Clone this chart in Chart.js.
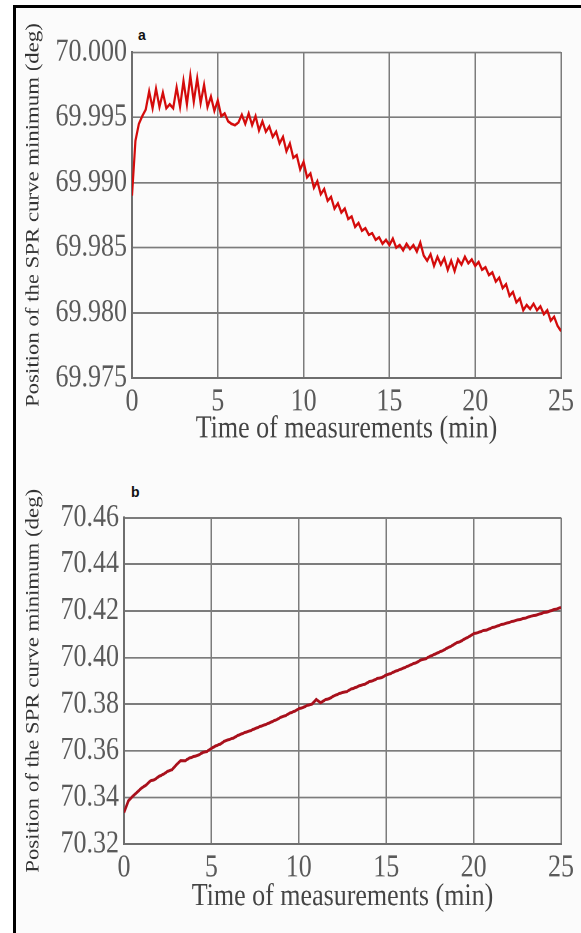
<!DOCTYPE html>
<html>
<head>
<meta charset="UTF-8">
<title>Position of the SPR curve minimum</title>
<script src="https://cdn.jsdelivr.net/npm/chart.js"></script>
<style>
  body { margin:0; background:#fff; width:581px; height:933px; overflow:hidden; position:relative; }
  .frame { position:absolute; left:13px; top:5px; width:620px; height:1000px; border-left:3px solid #000; border-top:3px solid #000; background:#fbfbfb; }
  .panel { position:absolute; left:17px; width:564px; transform:scaleY(1.2); transform-origin:0 0; }
  .tag { position:absolute; font:bold 14px "Liberation Sans", Arial, sans-serif; color:#111; }
</style>
</head>
<body>
<div class="frame"></div>
<div class="tag" style="left:138px; top:27px;">a</div>
<div class="tag" style="left:131px; top:484px;">b</div>
<div class="panel" style="top:9px; height:363px;"><canvas id="chartA" width="564" height="363"></canvas></div>
<div class="panel" style="top:460px; height:377px;"><canvas id="chartB" width="564" height="377"></canvas></div>

<script>
// panel a: sampled every 0.2 min
const stepA = 0.2;
const valuesA = [
  69.9890, 69.9932, 69.9945, 69.9951, 69.9956, 69.9970, 69.9957, 69.9972, 69.9958, 69.9969,
  69.9957, 69.9960, 69.9957, 69.9973, 69.9958, 69.9978, 69.9960, 69.9982, 69.9962, 69.9980,
  69.9961, 69.9975, 69.9958, 69.9966, 69.9955, 69.9963, 69.9951, 69.9953, 69.9947, 69.9945,
  69.9944, 69.9946, 69.9952, 69.9945, 69.9953, 69.9944, 69.9951, 69.9940, 69.9947, 69.9939,
  69.9943, 69.9935, 69.9939, 69.9930, 69.9935, 69.9924, 69.9930, 69.9919, 69.9921, 69.9910,
  69.9916, 69.9904, 69.9907, 69.9896, 69.9901, 69.9891, 69.9895, 69.9886, 69.9889, 69.9880,
  69.9884, 69.9877, 69.9880, 69.9872, 69.9874, 69.9866, 69.9869, 69.9863, 69.9865, 69.9860,
  69.9861, 69.9856, 69.9858, 69.9853, 69.9856, 69.9852, 69.9857, 69.9850, 69.9852, 69.9848,
  69.9853, 69.9849, 69.9852, 69.9847, 69.9854, 69.9844, 69.9840, 69.9845, 69.9836, 69.9843,
  69.9837, 69.9842, 69.9833, 69.9840, 69.9832, 69.9841, 69.9837, 69.9843, 69.9838, 69.9841,
  69.9836, 69.9839, 69.9833, 69.9835, 69.9829, 69.9831, 69.9824, 69.9827, 69.9819, 69.9822,
  69.9813, 69.9816, 69.9808, 69.9811, 69.9802, 69.9806, 69.9803, 69.9807, 69.9802, 69.9805,
  69.9799, 69.9802, 69.9794, 69.9797, 69.9790, 69.9786
];

// panel b: sampled every 0.25 min
const stepB = 0.25;
const valuesB = [
  70.3335, 70.3385, 70.3405, 70.3422, 70.3440, 70.3452, 70.3470, 70.3476, 70.3490, 70.3499,
  70.3512, 70.3519, 70.3540, 70.3558, 70.3557, 70.3569, 70.3575, 70.3581, 70.3592, 70.3597,
  70.3610, 70.3621, 70.3628, 70.3641, 70.3648, 70.3654, 70.3665, 70.3673, 70.3680, 70.3687,
  70.3695, 70.3703, 70.3710, 70.3717, 70.3726, 70.3734, 70.3745, 70.3751, 70.3762, 70.3769,
  70.3780, 70.3786, 70.3795, 70.3800, 70.3820, 70.3806, 70.3818, 70.3824, 70.3835, 70.3843,
  70.3850, 70.3854, 70.3865, 70.3871, 70.3880, 70.3884, 70.3895, 70.3901, 70.3910, 70.3914,
  70.3925, 70.3931, 70.3940, 70.3947, 70.3955, 70.3963, 70.3972, 70.3979, 70.3990, 70.3994,
  70.4005, 70.4013, 70.4022, 70.4030, 70.4041, 70.4050, 70.4062, 70.4069, 70.4080, 70.4090,
  70.4102, 70.4107, 70.4114, 70.4118, 70.4126, 70.4132, 70.4139, 70.4144, 70.4150, 70.4155,
  70.4161, 70.4165, 70.4170, 70.4177, 70.4180, 70.4186, 70.4192, 70.4196, 70.4203, 70.4208,
  70.4215
];

const xTicks = [0, 5, 10, 15, 20, 25];
const yTicksA = [69.975, 69.980, 69.985, 69.990, 69.995, 70.000];
const yTicksB = [70.32, 70.34, 70.36, 70.38, 70.40, 70.42, 70.44, 70.46];

const xTitle = 'Time of measurements (min)';
const yTitle = 'Position of the SPR curve minimum (deg)';

const serif = '"Liberation Serif", "Times New Roman", serif';
const gridColor = '#7c7c7c';

function makeChart(id, values, step, yTicks, digits, color, width, cfg) {
  const pts = values.map((v, i) => ({ x: i * step, y: v }));
  return new Chart(document.getElementById(id), {
    type: 'line',
    data: { datasets: [{ data: pts, borderColor: color, borderWidth: width, pointRadius: 0, tension: 0, fill: false }] },
    options: {
      responsive: false,
      animation: false,
      devicePixelRatio: 2,
      layout: { padding: { top: cfg.top, right: 13, left: 0, bottom: 0 } },
      plugins: { legend: { display: false }, tooltip: { enabled: false } },
      scales: {
        x: {
          type: 'linear', min: 0, max: 25,
          afterBuildTicks: s => { s.ticks = xTicks.map(v => ({ value: v })); },
          afterFit: s => { s.height = cfg.xh; },
          grid: { color: gridColor, lineWidth: 1.5, drawTicks: false },
          border: { color: '#6e6e6e', width: 2 },
          ticks: { color: '#5a5a5a', padding: 7, font: { family: serif, size: 26, lineHeight: 1 }, maxRotation: 0 },
          title: { display: true, text: xTitle, color: '#444', padding: { top: 0, bottom: 0 }, font: { family: serif, size: 26, lineHeight: 1 } }
        },
        y: {
          min: yTicks[0], max: yTicks[yTicks.length - 1],
          afterBuildTicks: s => { s.ticks = yTicks.map(v => ({ value: v })); },
          afterFit: s => { s.width = cfg.yw; },
          grid: { color: gridColor, lineWidth: 1.5, drawTicks: false },
          border: { color: '#6e6e6e', width: 2 },
          ticks: { color: '#5a5a5a', padding: 5, font: { family: serif, size: 26, lineHeight: 1 }, callback: v => v.toFixed(digits) },
          title: { display: true, text: yTitle, color: '#333', padding: { top: 5, bottom: 0 }, font: { family: serif, size: 19, lineHeight: 1.2 } }
        }
      }
    }
  });
}

makeChart('chartA', valuesA, stepA, yTicksA, 3, '#d40b0b', 2.2, { top: 36, xh: 55.5, yw: 115 });
makeChart('chartB', valuesB, stepB, yTicksB, 2, '#a8101c', 2.5, { top: 48, xh: 57, yw: 107 });
</script>
</body>
</html>
